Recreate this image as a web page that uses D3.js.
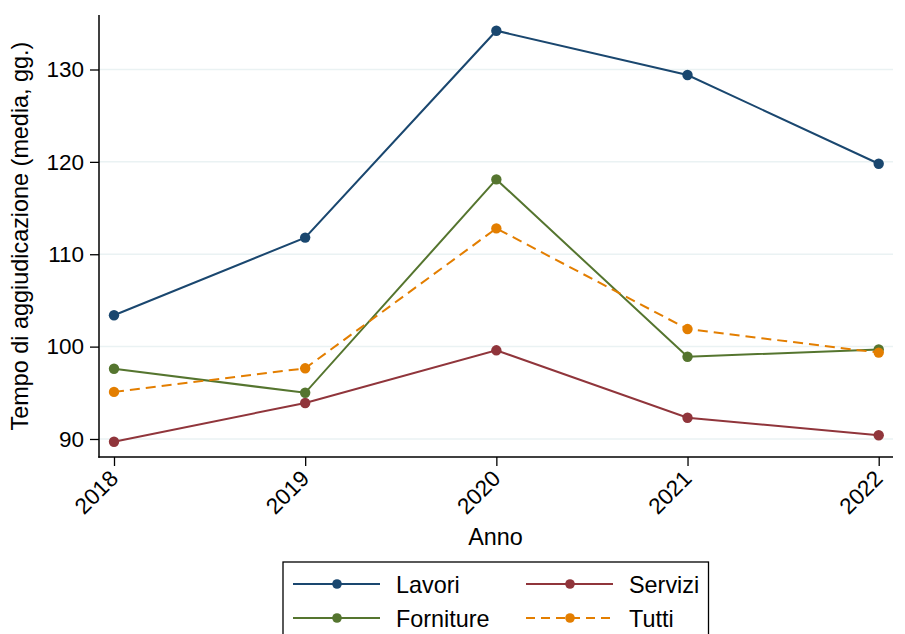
<!DOCTYPE html>
<html><head><meta charset="utf-8">
<script src="https://cdn.jsdelivr.net/npm/d3@7"></script>
<style>body{margin:0;background:#fff}svg{display:block;font-family:"Liberation Sans",Arial,sans-serif}</style>
</head><body>
<svg id="c" width="905" height="634"></svg>
<script>
const years = [2018, 2019, 2020, 2021, 2022];
const lavori = [103.4, 111.8, 134.2, 129.4, 119.8];
const servizi = [89.7, 93.9, 99.6, 92.3, 90.4];
const forniture = [97.6, 95.0, 118.1, 98.9, 99.7];
const tutti = [95.1, 97.65, 112.8, 101.9, 99.35];
const yTicks = [90, 100, 110, 120, 130];
const seriesNames = ["Lavori", "Servizi", "Forniture", "Tutti"];
const seriesValues = [lavori, servizi, forniture, tutti];
const colors = ["#1a476f", "#90353b", "#55752f", "#e37e00"];
const dashes = [null, null, null, "10,6"];

const svg = d3.select("#c");
const x = d3.scaleLinear().domain([2018, 2022]).range([114, 878.7]);
const y = d3.scaleLinear().domain([88.05, 135.9]).range([457, 15]);
const X0 = 99, X1 = 893;
const FONT = "Liberation Sans, Arial, sans-serif";

// grid
svg.append("g").selectAll("line").data(yTicks).join("line")
  .attr("x1", X0).attr("x2", X1).attr("y1", d => y(d)).attr("y2", d => y(d))
  .attr("stroke", "#eaf2f3").attr("stroke-width", 1.5);

// y axis
const ya = svg.append("g").attr("transform", `translate(${X0},0)`)
  .call(d3.axisLeft(y).tickValues(yTicks).tickSize(9).tickPadding(6).tickFormat(d3.format("d")));
ya.select(".domain").remove();
ya.selectAll("line").attr("stroke", "#000").attr("stroke-width", 1.3);
ya.selectAll("text").attr("font-size", 22.5).attr("fill", "#000").attr("font-family", FONT);
svg.append("line").attr("x1", X0).attr("x2", X0).attr("y1", 15).attr("y2", 457.7).attr("stroke", "#000").attr("stroke-width", 1.5);

// x axis
const xa = svg.append("g").attr("transform", `translate(0,457)`)
  .call(d3.axisBottom(x).tickValues(years).tickSize(9).tickFormat(d3.format("d")));
xa.select(".domain").remove();
xa.selectAll("line").attr("stroke", "#000").attr("stroke-width", 1.3);
xa.selectAll("text").attr("font-size", 22.5).attr("fill", "#000").attr("font-family", FONT)
  .attr("text-anchor", "end").attr("y", 0).attr("dy", 0)
  .attr("transform", "translate(5,23) rotate(-45)");
svg.append("line").attr("x1", X0 - 0.7).attr("x2", X1).attr("y1", 457).attr("y2", 457).attr("stroke", "#000").attr("stroke-width", 1.5);

// titles
svg.append("text").attr("x", 495.5).attr("y", 545).attr("text-anchor", "middle").attr("font-size", 23.4).text("Anno");
svg.append("text").attr("transform", "translate(28,236) rotate(-90)").attr("text-anchor", "middle").attr("font-size", 23.4)
  .text("Tempo di aggiudicazione (media, gg.)");

// series
const line = d3.line().x((d, i) => x(years[i])).y(d => y(d));
[0, 1, 2, 3].forEach(k => {
  const g = svg.append("g");
  g.append("path").attr("d", line(seriesValues[k])).attr("fill", "none")
    .attr("stroke", colors[k]).attr("stroke-width", 2).attr("stroke-dasharray", dashes[k]);
  g.selectAll("circle").data(seriesValues[k]).join("circle")
    .attr("cx", (d, i) => x(years[i])).attr("cy", d => y(d)).attr("r", 5.2).attr("fill", colors[k]);
});

// legend
const lg = svg.append("g");
lg.append("rect").attr("x", 283).attr("y", 562).attr("width", 425.5).attr("height", 90)
  .attr("fill", "#fff").attr("stroke", "#000").attr("stroke-width", 1.3);
const legPos = [[293, 584], [526, 584], [293, 618], [526, 618]];
seriesNames.forEach((n, k) => {
  const [lx, ly] = legPos[k];
  lg.append("line").attr("x1", lx).attr("x2", lx + 87).attr("y1", ly).attr("y2", ly)
    .attr("stroke", colors[k]).attr("stroke-width", 2).attr("stroke-dasharray", dashes[k] ? "9,6" : null);
  lg.append("circle").attr("cx", lx + 44).attr("cy", ly).attr("r", 4.8).attr("fill", colors[k]);
  lg.append("text").attr("x", lx + 103).attr("y", ly + 8.5).attr("font-size", 23.4).text(n);
});
</script>
</body></html>
